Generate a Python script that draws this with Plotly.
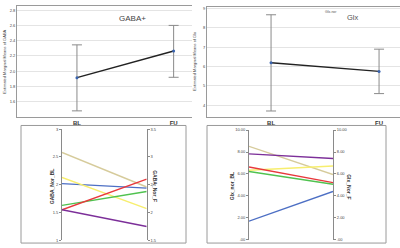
import plotly.graph_objects as go

W, H = 400, 248

# ---------------- data ----------------
time_points = ["BL", "FU"]

gaba_means = [1.915, 2.265]
gaba_upper = [2.345, 2.600]
gaba_lower = [1.480, 1.920]

glx_means = [6.20, 5.75]
glx_upper = [8.68, 6.90]
glx_lower = [3.70, 4.60]

subject_colors = ["#D6CB9B", "#4D6FC4", "#F7EE6E", "#4FC24F", "#E8383C", "#7C2F99"]

gaba_nor_bl = [2.58, 2.02, 2.13, 1.63, 1.55, 1.55]
gaba_nor_fu = [2.46, 2.44, 2.07, 2.38, 2.60, 1.75]

glx_nor_bl = [8.52, 1.70, 6.34, 6.22, 6.64, 7.83]
glx_nor_fu = [5.95, 4.41, 6.73, 5.06, 5.21, 7.41]

gaba_ticks_bl = [1, 1.5, 2, 2.5, 3]
gaba_ticks_fu = [1.5, 2, 2.5, 3, 3.5]
glx_ticks = [0, 2, 4, 6, 8, 10]
glx_ticktext = [".00", "2.00", "4.00", "6.00", "8.00", "10.00"]

FONT = "Liberation Sans"


def px_x(p):
    return p / W


def px_y(p):
    return 1 - p / H


fig = go.Figure()

# ---------------- top panels: estimated marginal means ----------------
def emm_panel(means, up, lo, xa, ya):
    fig.add_trace(go.Scatter(
        x=time_points, y=means, xaxis=xa, yaxis=ya, mode="lines+markers",
        line=dict(color="#222222", width=1.4),
        marker=dict(size=3, color="#3a64b0"),
        error_y=dict(type="data", symmetric=False,
                     array=[u - m for u, m in zip(up, means)],
                     arrayminus=[m - l for m, l in zip(means, lo)],
                     color="#8a8a8a", thickness=1, width=5),
        showlegend=False, hoverinfo="skip"))


emm_panel(gaba_means, gaba_upper, gaba_lower, "x", "y")
emm_panel(glx_means, glx_upper, glx_lower, "x2", "y2")

top_x_common = dict(type="category", categoryorder="array", categoryarray=time_points,
                    tickvals=time_points, ticktext=[f"<b>{t}</b>" for t in time_points],
                    showline=True, linecolor="#9a9a9a", linewidth=1, mirror=True,
                    showgrid=False, ticks="", zeroline=False,
                    tickfont=dict(family=FONT, size=6, color="#333333"))
top_y_common = dict(showline=True, linecolor="#9a9a9a", linewidth=1,
                    showgrid=True, gridcolor="#e4e4e4", gridwidth=1, ticks="",
                    zeroline=False, tickfont=dict(family=FONT, size=4, color="#444444"))

fig.update_layout(
    xaxis=dict(domain=[px_x(17), px_x(192)], anchor="y", range=[-0.62, 1.19], **top_x_common),
    yaxis=dict(domain=[px_y(116), px_y(3)], anchor="x", range=[1.404, 2.855],
               tickvals=[1.6, 1.8, 2.0, 2.2, 2.4, 2.6, 2.8],
               ticktext=["1.6", "1.8", "2.0", "2.2", "2.4", "2.6", "2.8"], **top_y_common),
    xaxis2=dict(domain=[px_x(207), px_x(400)], anchor="y2", range=[-0.593, 1.194], **top_x_common),
    yaxis2=dict(domain=[px_y(116), px_y(4)], anchor="x2", range=[3.407, 9.086],
                tickvals=[4, 5, 6, 7, 8, 9], **top_y_common),
)

# ---------------- bottom panels: individual subject lines ----------------
def to_left(v, lo_r, hi_r, lo_l, hi_l):
    return lo_l + (v - lo_r) / (hi_r - lo_r) * (hi_l - lo_l)


gaba_bl_range = [gaba_ticks_bl[0], gaba_ticks_bl[-1]]
gaba_fu_range = [gaba_ticks_fu[0], gaba_ticks_fu[-1]]
for c, b, f in zip(subject_colors, gaba_nor_bl, gaba_nor_fu):
    fig.add_trace(go.Scatter(
        x=[0, 1], y=[b, to_left(f, *gaba_fu_range, *gaba_bl_range)],
        xaxis="x3", yaxis="y3", mode="lines", line=dict(color=c, width=1.4),
        showlegend=False, hoverinfo="skip"))
fig.add_trace(go.Scatter(x=[1], y=[gaba_nor_fu[0]], xaxis="x3", yaxis="y4",
                         mode="markers", marker=dict(opacity=0), showlegend=False,
                         hoverinfo="skip"))

for c, b, f in zip(subject_colors, glx_nor_bl, glx_nor_fu):
    fig.add_trace(go.Scatter(
        x=[0, 1], y=[b, f], xaxis="x4", yaxis="y5", mode="lines",
        line=dict(color=c, width=1.4), showlegend=False, hoverinfo="skip"))
fig.add_trace(go.Scatter(x=[1], y=[glx_nor_fu[0]], xaxis="x4", yaxis="y6",
                         mode="markers", marker=dict(opacity=0), showlegend=False,
                         hoverinfo="skip"))

bot_x = dict(range=[0, 1], visible=False, showgrid=False, zeroline=False)
bot_y = dict(showline=True, linecolor="#8a8a8a", linewidth=1, showgrid=False,
             zeroline=False, ticks="outside", ticklen=2, tickcolor="#8a8a8a",
             tickfont=dict(family=FONT, size=4, color="#444444"))

gaba_dom = [px_y(242.3), px_y(128.7)]
glx_dom = [px_y(241.7), px_y(129.7)]

fig.update_layout(
    xaxis3=dict(domain=[px_x(62), px_x(146.7)], anchor="y3", **bot_x),
    yaxis3=dict(domain=gaba_dom, anchor="x3", range=gaba_bl_range,
                tickvals=gaba_ticks_bl, ticktext=["1", "1.5", "2", "2.5", "3"], **bot_y),
    yaxis4=dict(overlaying="y3", side="right", anchor="x3", range=gaba_fu_range,
                tickvals=gaba_ticks_fu, ticktext=["1.5", "2", "2.5", "3", "3.5"], **bot_y),
    xaxis4=dict(domain=[px_x(249), px_x(333)], anchor="y5", **bot_x),
    yaxis5=dict(domain=glx_dom, anchor="x4", range=[0, 10],
                tickvals=glx_ticks, ticktext=glx_ticktext, **bot_y),
    yaxis6=dict(overlaying="y5", side="right", anchor="x4", range=[0, 10],
                tickvals=glx_ticks, ticktext=glx_ticktext, **bot_y),
)

# frames around bottom panels
for x0, x1 in [(21, 186), (207, 386)]:
    fig.add_shape(type="rect", xref="paper", yref="paper",
                  x0=px_x(x0), x1=px_x(x1), y0=px_y(245), y1=px_y(125),
                  line=dict(color="#9a9a9a", width=1), fillcolor="rgba(0,0,0,0)")

# ---------------- annotations ----------------
def ann(text, x, y, size, angle=0, bold=False, bg=None, color="#333333"):
    fig.add_annotation(
        text=f"<b>{text}</b>" if bold else text, xref="paper", yref="paper",
        x=px_x(x), y=px_y(y), showarrow=False, textangle=angle,
        font=dict(family=FONT, size=size, color=color),
        bgcolor=bg, xanchor="center", yanchor="middle", borderpad=1)


ann("Estimated Marginal Means of GABA", 5, 60, 4, angle=-90, color="#444444")
ann("Estimated Marginal Means of Glx", 195, 60, 4, angle=-90, color="#444444")
ann("GABA+", 132, 16, 8, bg="white", color="#444444")
ann("Glx-nor", 331, 9, 3.5, color="#555555")
ann("Glx", 353, 15, 7.5, color="#555555")
ann("GABA_Nor_BL", 52, 187, 5, angle=-90, bold=True)
ann("GABA_Nor_F", 155, 187, 5, angle=90, bold=True)
ann("Glx_nor_BL", 232, 187, 5, angle=-90, bold=True)
ann("Glx_Nor_F", 349, 187, 5, angle=90, bold=True)

fig.update_layout(
    width=W, height=H, margin=dict(l=0, r=0, t=0, b=0),
    paper_bgcolor="white", plot_bgcolor="white", showlegend=False,
    hovermode=False,
)

fig.write_html("out.html", config={"displayModeBar": False, "staticPlot": True},
               post_script="document.body.style.margin='0';document.body.style.overflow='hidden';")
